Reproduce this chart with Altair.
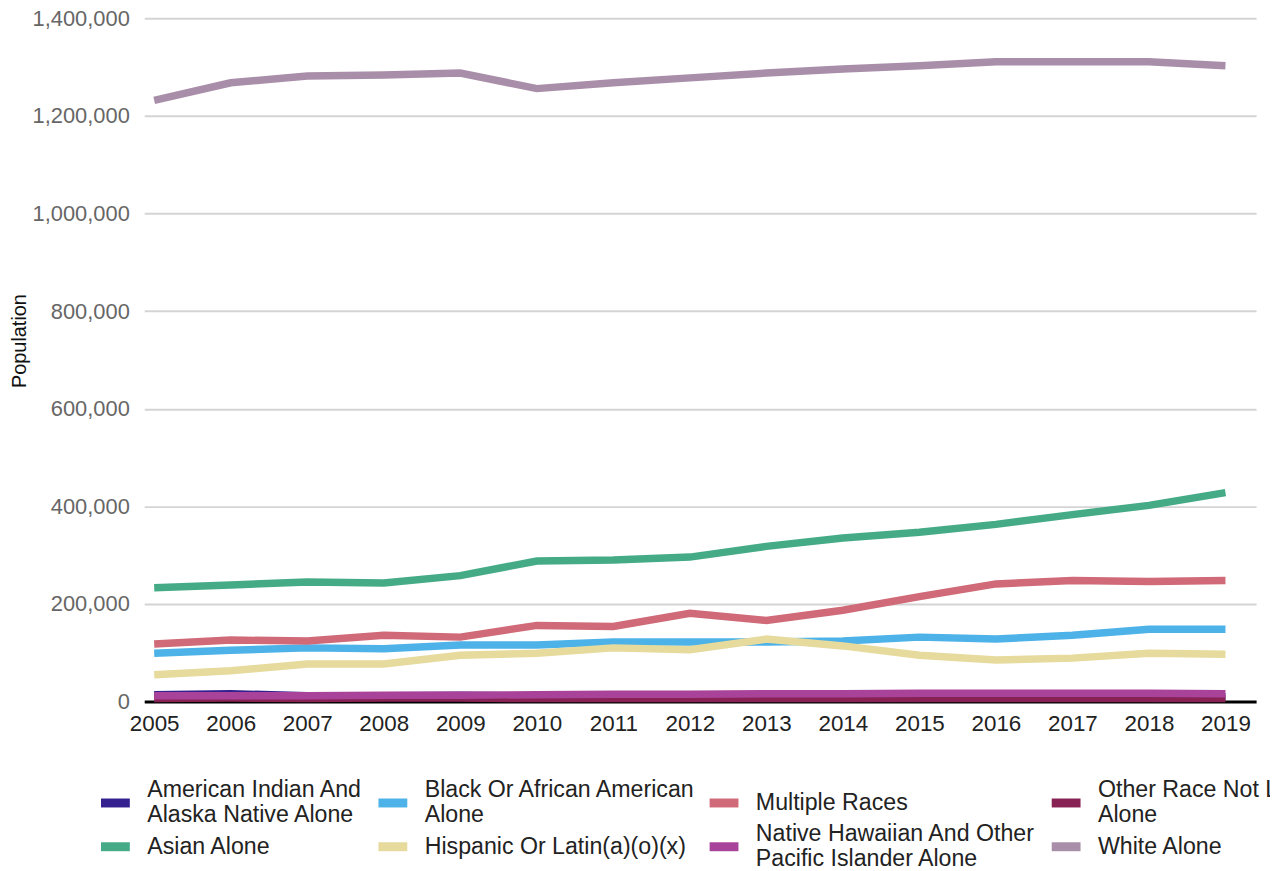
import altair as alt
import pandas as pd

years = list(range(2005, 2020))

series_names = [
    "American Indian And Alaska Native Alone",
    "Black Or African American Alone",
    "Multiple Races",
    "Other Race Not Listed Alone",
    "Asian Alone",
    "Hispanic Or Latin(a)(o)(x)",
    "Native Hawaiian And Other Pacific Islander Alone",
    "White Alone",
]

wrapped = {
    "American Indian And Alaska Native Alone": ["American Indian And", "Alaska Native Alone"],
    "Black Or African American Alone": ["Black Or African American", "Alone"],
    "Multiple Races": ["Multiple Races"],
    "Other Race Not Listed Alone": ["Other Race Not Listed", "Alone"],
    "Asian Alone": ["Asian Alone"],
    "Hispanic Or Latin(a)(o)(x)": ["Hispanic Or Latin(a)(o)(x)"],
    "Native Hawaiian And Other Pacific Islander Alone": ["Native Hawaiian And Other", "Pacific Islander Alone"],
    "White Alone": ["White Alone"],
}

colors = ["#35208f", "#4cb2e8", "#d06a78", "#882255", "#45ab86", "#e6da9c", "#a94399", "#a98ea9"]

# legend slot (column, row) for each series
legend_slots = [(0, 0), (1, 0), (2, 0), (3, 0), (0, 1), (1, 1), (2, 1), (3, 1)]

american_indian = [14000, 16000, 12000, 12000, 13000, 11000, 11000, 11000, 11000, 11000, 10000, 10000, 10000, 10000, 10000]
black = [99000, 105000, 110000, 108000, 116000, 116000, 122000, 122000, 122000, 124000, 132000, 128000, 136000, 148000, 148000]
multiple = [118000, 126000, 124000, 136000, 132000, 156000, 154000, 181000, 166000, 187000, 215000, 241000, 248000, 246000, 248000]
other_race = [6000, 7000, 6000, 7000, 7000, 6000, 6000, 6000, 6000, 6000, 6000, 6000, 6000, 6000, 6000]
asian = [233000, 239000, 245000, 243000, 258000, 288000, 290000, 296000, 318000, 335000, 347000, 363000, 383000, 402000, 428000]
hispanic = [55000, 63000, 77000, 77000, 95000, 99000, 110000, 106000, 128000, 114000, 95000, 85000, 89000, 99000, 97000]
native_hawaiian = [12000, 12000, 12000, 13000, 13000, 14000, 15000, 15000, 16000, 16000, 17000, 17000, 17000, 17000, 16000]
white = [1232000, 1268000, 1282000, 1284000, 1288000, 1256000, 1268000, 1278000, 1288000, 1296000, 1303000, 1311000, 1311000, 1311000, 1303000]

values = [american_indian, black, multiple, other_race, asian, hispanic, native_hawaiian, white]

rows = []
for name, vals in zip(series_names, values):
    for y, v in zip(years, vals):
        rows.append({"Year": y, "Race": name, "Population": v})
df = pd.DataFrame(rows)

FONT = "Liberation Sans"

# legend layout (relative to plot origin)
col_x = [-48, 231, 564, 908]
row_y = [770, 814]

x_enc = alt.X("Year:Q",
              scale=alt.Scale(domain=[2004.87, 2019.4], nice=False, zero=False),
              axis=alt.Axis(values=years, format="d", title=None, grid=False, ticks=False,
                            domainColor="#000000", domainWidth=3, labelFontSize=22.5,
                            labelColor="#222222", labelPadding=11, labelFont=FONT))
y_enc = alt.Y("Population:Q",
              scale=alt.Scale(domain=[0, 1400000], nice=False),
              axis=alt.Axis(values=[0, 200000, 400000, 600000, 800000, 1000000, 1200000, 1400000],
                            format=",d", title="Population", domain=False, ticks=False,
                            gridColor="#d4d4d4", gridWidth=2, labelFontSize=22,
                            labelColor="#666666", labelPadding=15, labelFont=FONT,
                            titleFont=FONT, titleFontSize=20, titleFontWeight="normal",
                            titleColor="#111111", titleX=-125, titleY=324, titleAngle=-90,
                            titleAlign="center", titleBaseline="middle"))

layers = []
for name, color, (c, r) in zip(series_names, colors, legend_slots):
    lines = wrapped[name]
    expr = "[" + ", ".join("'" + p + "'" for p in lines) + "]" if len(lines) > 1 else "datum.label"
    layer = alt.Chart(df).transform_filter(
        alt.datum.Race == name
    ).mark_line(strokeWidth=7.5).encode(
        x=x_enc,
        y=y_enc,
        color=alt.Color("Race:N",
                        scale=alt.Scale(domain=[name], range=[color]),
                        legend=alt.Legend(title=None, orient="none",
                                          legendX=col_x[c], legendY=row_y[r],
                                          symbolType="stroke", symbolSize=841, symbolStrokeWidth=9,
                                          labelFontSize=23.3, labelFont=FONT, labelColor="#222222",
                                          labelOffset=13, labelLimit=400, padding=0,
                                          labelBaseline="line-bottom" if len(lines) > 1 else "middle",
                                          labelExpr=expr)),
    )
    layers.append(layer)

chart = alt.layer(*layers).resolve_scale(color="independent").properties(
    width=1118,
    height=687,
    autosize=alt.AutoSizeParams(type="none"),
    padding={"left": 137, "top": 8, "right": 14, "bottom": 168},
).configure_view(stroke=None)

chart.save("out.html", embed_options={"renderer": "svg", "actions": False})
